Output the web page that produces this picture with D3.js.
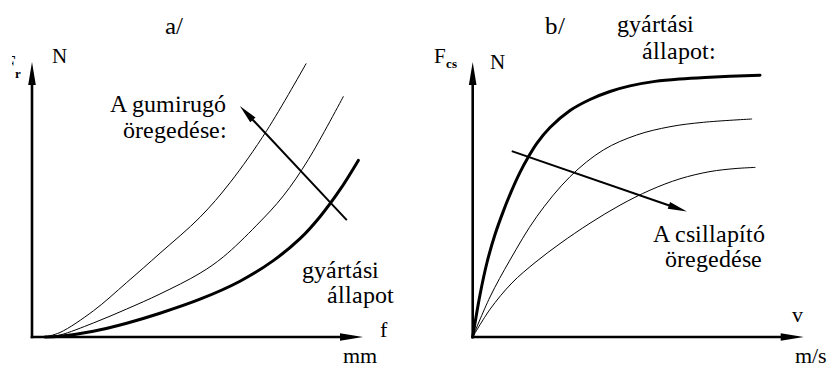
<!DOCTYPE html>
<html>
<head>
<meta charset="utf-8">
<script src="https://cdn.jsdelivr.net/npm/d3@7"></script>
<style>
  @font-face {
    font-family: "ChartSerif";
    src: local("Liberation Serif"), local("LiberationSerif"), local("LiberationSerif-Regular"),
         local("DejaVu Serif"), local("DejaVuSerif"), local("Noto Serif"), local("NotoSerif-Regular");
    font-weight: normal;
  }
  @font-face {
    font-family: "ChartSerif";
    src: local("Liberation Serif Bold"), local("LiberationSerif-Bold"),
         local("DejaVu Serif Bold"), local("DejaVuSerif-Bold");
    font-weight: bold;
  }
  html, body { margin: 0; padding: 0; background: #fff; }
  svg { display: block; }
  svg text { font-family: "ChartSerif", "Liberation Serif", "DejaVu Serif", serif; }
</style>
</head>
<body>
<script>
// Panel a/: rubber spring force vs. deflection (new state and two aged states)
const springNew   = [[3.93,0],[8.46,0.27],[18.52,2.09],[28.61,5.02],[38.67,8.65],[50.76,13.75],[62.84,20.29],[72.90,27.78],[80.97,35.75],[87.01,43.75],[93.05,53.56],[98.58,64.22]];
const springAged1 = [[3.93,0],[8.46,0.73],[18.52,5.09],[28.61,10.18],[38.67,15.64],[50.76,23.2],[57.79,29.13],[67.88,40.65],[75.92,51.31],[83.47,64.51],[94.05,87.42]];
const springAged2 = [[3.93,0],[8.46,1.64],[18.52,9.49],[28.61,19.82],[38.67,30.47],[50.76,43.56],[59.82,56.11],[70.91,75.05],[82.78,99.35]];
const springArrow = [[95.1,42.5],[62.8,84.0]];

// Panel b/: damper force vs. velocity (new state and two aged states)
const damperNew   = [[0,0],[2.21,15.38],[4.32,27.09],[6.74,37.27],[9.15,45.42],[11.57,52.69],[14.29,59.89],[16.71,65.27],[19.43,70.51],[23.35,76.18],[29.40,82.36],[35.44,86.36],[41.48,89.27],[47.52,91.31],[55.08,92.95],[62.63,93.85],[70.18,94.4],[86.80,95.2]];
const damperAged1 = [[0,0],[5.23,14.55],[11.27,28.0],[19.34,43.75],[29.40,58.29],[39.46,68.0],[49.55,73.45],[59.61,76.47],[69.67,78.07],[84.29,79.27]];
const damperAged2 = [[0,0],[5.23,10.07],[11.87,19.67],[18.82,27.05],[26.37,33.96],[35.44,41.38],[44.50,47.93],[53.56,53.38],[62.63,57.53],[71.69,60.15],[79.24,61.24],[85.29,61.67]];
const damperArrow = [[11.8,67.6],[64.7,45.6]];

const W = 832, H = 367;
const svg = d3.select("body").append("svg").attr("width", W).attr("height", H);

const xA = d3.scaleLinear().domain([0, 100]).range([32, 363]);
const yA = d3.scaleLinear().domain([0, 100]).range([337, 62]);
const xB = d3.scaleLinear().domain([0, 100]).range([472.7, 803.7]);
const yB = d3.scaleLinear().domain([0, 100]).range([337, 62]);

// filled arrowhead with its tip at (x2,y2), pointing away from (x1,y1)
function arrowHead(g, x1, y1, x2, y2, len, half) {
  const a = Math.atan2(y2 - y1, x2 - x1);
  const bx = x2 - len * Math.cos(a), by = y2 - len * Math.sin(a);
  const nx = -Math.sin(a) * half, ny = Math.cos(a) * half;
  g.append("path")
    .attr("d", `M${x2},${y2}L${bx + nx},${by + ny}L${bx - nx},${by - ny}Z`)
    .attr("fill", "#000");
}

function drawAxes(x, y) {
  const g = svg.append("g");
  const ax = g.append("g").attr("transform", `translate(0,${y(0)})`)
    .call(d3.axisBottom(x).tickValues([]).tickSizeOuter(0));
  const ay = g.append("g").attr("transform", `translate(${x(0)},0)`)
    .call(d3.axisLeft(y).tickValues([]).tickSizeOuter(0));
  g.selectAll(".domain").attr("stroke", "#000").attr("stroke-width", 2.6);
  ax.select(".domain").attr("d", `M${x(0) - 1.3},0H${x(100) - 18}`);
  ay.select(".domain").attr("d", `M0,${y(0) + 1.3}V${y(100) + 18}`);
  arrowHead(g, x(0), y(0), x(100), y(0), 23, 3.8);
  arrowHead(g, x(0), y(0), x(0), y(100), 23, 3.8);
}

function drawCurve(x, y, data, w) {
  const line = d3.line().x(d => x(d[0])).y(d => y(d[1])).curve(d3.curveCatmullRom.alpha(0.5));
  svg.append("path").datum(data).attr("d", line)
    .attr("fill", "none").attr("stroke", "#000")
    .attr("stroke-width", w).attr("stroke-linecap", "round").attr("stroke-linejoin", "round");
}

function drawArrow(x, y, pts) {
  const g = svg.append("g");
  const [p, q] = pts;
  const x1 = x(p[0]), y1 = y(p[1]), x2 = x(q[0]), y2 = y(q[1]);
  const a = Math.atan2(y2 - y1, x2 - x1);
  g.append("line").attr("x1", x1).attr("y1", y1)
    .attr("x2", x2 - 14 * Math.cos(a)).attr("y2", y2 - 14 * Math.sin(a))
    .attr("stroke", "#000").attr("stroke-width", 2);
  arrowHead(g, x1, y1, x2, y2, 19, 3.6);
}

function label(x, y, str, size, opts = {}) {
  const t = svg.append("text").attr("x", x).attr("y", y)
    .attr("font-size", size).attr("fill", "#000").text(str);
  if (opts.bold) t.attr("font-weight", "bold");
  if (opts.anchor) t.attr("text-anchor", opts.anchor);
  return t;
}

// ---- panel a/ ----
drawAxes(xA, yA);
drawCurve(xA, yA, springAged2, 1);
drawCurve(xA, yA, springAged1, 1);
drawCurve(xA, yA, springNew, 3);
drawArrow(xA, yA, springArrow);

label(165, 34, "a/", 25);
label(52, 63, "N", 21);
svg.append("clipPath").attr("id", "clipF").append("rect")
  .attr("x", 12).attr("y", 0).attr("width", 40).attr("height", 120);
label(15.5, 70, "F", 21, { anchor: "end" }).attr("clip-path", "url(#clipF)");
label(14.5, 78, "r", 13, { bold: true });
label(110, 112, "A gumirugó", 24);
label(123, 138, "öregedése:", 24);
label(302, 278, "gyártási", 24);
label(327, 303, "állapot", 24);
label(380, 337, "f", 22);
label(343, 363, "mm", 22);

// ---- panel b/ ----
drawAxes(xB, yB);
drawCurve(xB, yB, damperAged2, 1);
drawCurve(xB, yB, damperAged1, 1);
drawCurve(xB, yB, damperNew, 3);
drawArrow(xB, yB, damperArrow);

label(545, 34, "b/", 25);
label(617, 32, "gyártási", 24);
label(642, 59, "állapot:", 24);
label(434, 63, "F", 21);
label(446, 68, "cs", 13, { bold: true });
label(490, 69, "N", 21);
label(653, 242, "A csillapító", 24);
label(665, 267, "öregedése", 24);
label(792, 322, "v", 22);
label(795, 363, "m/s", 22);
</script>
</body>
</html>
